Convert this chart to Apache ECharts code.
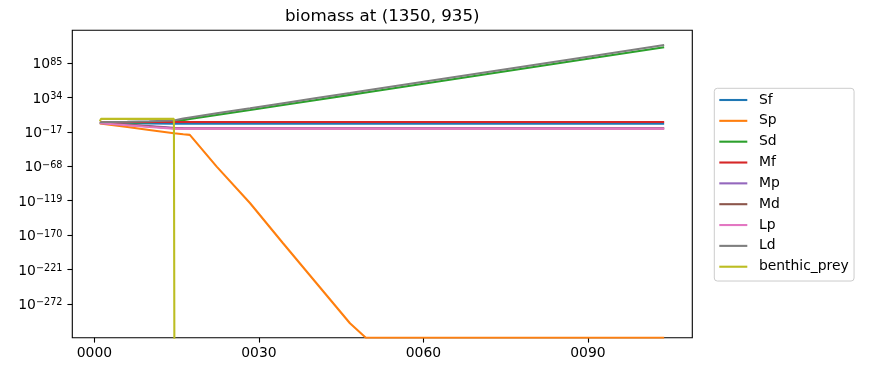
<!DOCTYPE html>
<html><head><meta charset="utf-8">
<script src="https://cdn.jsdelivr.net/npm/echarts@6/dist/echarts.min.js"></script>
<style>html,body{margin:0;padding:0;background:#fff}#c{width:891px;height:371px}</style>
</head><body><div id="c"></div>
<script>
const chartTitle = 'biomass at (1350, 935)';
const seriesNames = ['Sf', 'Sp', 'Sd', 'Mf', 'Mp', 'Md', 'Lp', 'Ld', 'benthic_prey'];
const colors = ['#1f77b4', '#ff7f0e', '#2ca02c', '#d62728', '#9467bd', '#8c564b', '#e377c2', '#7f7f7f', '#bcbd22'];
// time (years)
const years = [1.0, 1.2, 6, 10, 14.5, 14.6, 16.2, 17.4, 22.3, 28.4, 34.4, 40.5, 46.6, 49.5, 60, 75, 90, 103.9];
// log10(biomass) per series
const Sf = [-3.7, -3.7, -4.1, -4.5, -4.8, -4.8, -4.8, -4.8, -4.8, -4.8, -4.8, -4.8, -4.8, -4.8, -4.8, -4.8, -4.8, -4.8];
const Sp = [-4.4, -4.6, -9.7, -14.1, -19.0, -19.1, -20.5, -21.4, -68.4, -122.7, -182, -241.3, -300.6, -322, -322, -322, -322, -322];
const Sd = [-3.7, -3.7, -3.2, -2.6, -1.6, -1.5, 0.5, 2.0, 8.0, 15.5, 22.9, 30.4, 37.9, 41.5, 54.5, 73.0, 91.5, 108.6];
const Mf = [-2.6, -2.6, -2.4, -2.3, -2.2, -2.2, -2.2, -2.2, -2.2, -2.2, -2.2, -2.2, -2.2, -2.2, -2.2, -2.2, -2.2, -2.2];
const Mp = [-3.4, -3.5, -6.1, -8.3, -10.9, -11.0, -11.4, -11.5, -11.5, -11.5, -11.5, -11.5, -11.5, -11.5, -11.5, -11.5, -11.5, -11.5];
const Md = [-3.6, -3.7, -6.6, -9.0, -11.7, -11.8, -12.0, -12.0, -12.0, -12.0, -12.0, -12.0, -12.0, -12.0, -12.0, -12.0, -12.0, -12.0];
const Lp = [-4.1, -4.2, -7.2, -9.7, -12.1, -12.1, -12.1, -12.1, -12.1, -12.1, -12.1, -12.1, -12.1, -12.1, -12.1, -12.1, -12.1, -12.1];
const Ld = [-2.8, -2.8, -2.0, -1.2, 0.0, 1.0, 3.0, 4.5, 10.6, 18.1, 25.6, 33.2, 40.7, 44.3, 57.3, 75.9, 94.5, 111.8];
// zero biomass after the collapse -> far below the axis (log of 0)
const benthic_prey = [-1.1, 2.3, 2.3, 2.3, 2.3, -400, -400, -400, -400, -400, -400, -400, -400, -400, -400, -400, -400, -400];
const xTicks = [0, 30, 60, 90];
const yTicks = [85, 34, -17, -68, -119, -170, -221, -272];

const seriesValues = [Sf, Sp, Sd, Mf, Mp, Md, Lp, Ld, benthic_prey];
const FONT = 'DejaVu Sans';

const chart = echarts.init(document.getElementById('c'), null, {renderer: 'canvas'});
chart.setOption({
  animation: false,
  backgroundColor: '#fff',
  title: {
    text: chartTitle, left: 382.3, top: 8, padding: 0, textAlign: 'center',
    textStyle: {fontFamily: FONT, fontSize: 16.7, fontWeight: 'normal', color: '#000'}
  },
  grid: {left: 72.3, right: 198.7, top: 30.3, bottom: 33.3, show: true, borderColor: '#000', borderWidth: 1.1, containLabel: false},
  legend: {
    orient: 'vertical', left: 714.3, top: 88.3,
    icon: 'rect',
    itemWidth: 28, itemHeight: 2.1, itemGap: 6.84,
    padding: [4.7, 5.3, 7.3, 5],
    borderColor: '#cccccc', borderWidth: 1, borderRadius: 3,
    backgroundColor: 'rgba(255,255,255,0.8)',
    textStyle: {fontFamily: FONT, fontSize: 13.9, lineHeight: 14, color: '#000', padding: [0, 0, 0, 6.6]},
    data: seriesNames
  },
  xAxis: {
    type: 'value', min: -4.03, max: 109.03,
    axisLine: {show: false, onZero: false},
    splitLine: {show: false},
    axisTick: {show: true, customValues: xTicks, length: 4.9, lineStyle: {color: '#000', width: 1.1}},
    axisLabel: {customValues: xTicks, margin: 9, fontFamily: FONT, fontSize: 13.9, color: '#000',
      formatter: v => String(Math.round(v)).padStart(4, '0')}
  },
  yAxis: {
    type: 'value', min: -322, max: 133.6,
    axisLine: {show: false, onZero: false},
    splitLine: {show: false},
    axisTick: {show: true, customValues: yTicks, length: 4.9, lineStyle: {color: '#000', width: 1.1}},
    axisLabel: {customValues: yTicks, margin: 9.8, color: '#000',
      formatter: v => '{b|10}{s|' + String(Math.round(v)).replace('-', '\u2212') + '}',
      rich: {
        b: {fontFamily: FONT, fontSize: 13.9, color: '#000', padding: [3, 0, 0, 0]},
        s: {fontFamily: FONT, fontSize: 9.7, color: '#000', padding: [0, 0, 2, 0]}
      }}
  },
  series: seriesNames.map((name, i) => ({
    name, type: 'line', symbol: 'none', clip: true,
    color: colors[i],
    lineStyle: {width: 2.08, color: colors[i]},
    data: years.map((x, j) => [x, seriesValues[i][j]])
  }))
});
</script></body></html>
